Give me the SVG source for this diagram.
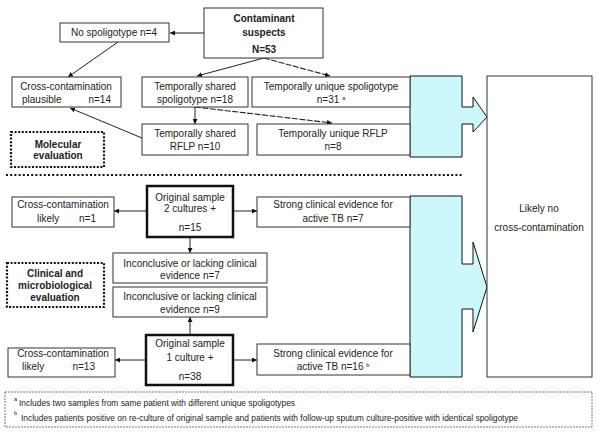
<svg xmlns="http://www.w3.org/2000/svg" width="600" height="435" viewBox="0 0 600 435">
<defs>
<marker id="ah" viewBox="0 0 10 10" refX="10" refY="5" markerWidth="5" markerHeight="5" orient="auto" markerUnits="userSpaceOnUse"><path d="M0,0 L10,5 L0,10 z" fill="#111"/></marker>
</defs>
<style>
text{font-family:"Liberation Sans",Arial,sans-serif;font-size:10px;fill:#222;text-anchor:middle}
.b{font-weight:bold}
.box{fill:#fff;stroke:#333;stroke-width:1}
.thick{fill:#fff;stroke:#111;stroke-width:2.5}
.dot{fill:#fff;stroke:#111;stroke-width:2.2;stroke-dasharray:2,1.6}
.cy{fill:#CCF8FC;stroke:#111;stroke-width:1}
.ln{stroke:#222;stroke-width:1;fill:none;marker-end:url(#ah)}
.dl{stroke:#222;stroke-width:1.1;fill:none;stroke-dasharray:6,1.5;marker-end:url(#ah)}
.fn{font-size:8.2px;text-anchor:start}
.sup{font-size:5.5px}
</style>
<rect x="0" y="0" width="600" height="435" fill="#fff"/>

<g id="cyan-top"><path class="cy" d="M410,76 H462 V107 H473 V97 L487,117 L473,132 V124 H462 V157 H410 Z"/></g>
<g id="cyan-bottom"><path class="cy" d="M410,196 H462 V264 H473 V242 L487,287 L473,332 V309 H462 V377 H410 Z"/></g>

<g id="connectors">
<line class="ln" x1="204" y1="33" x2="170" y2="33"/>
<line class="ln" x1="118" y1="42" x2="68" y2="77"/>
<line class="ln" x1="264" y1="58" x2="197" y2="76"/>
<line class="dl" x1="264" y1="58" x2="330" y2="76"/>
<line class="ln" x1="195" y1="107" x2="195" y2="124"/>
<line class="dl" x1="195" y1="107" x2="332" y2="123"/>
<line class="ln" x1="142" y1="138" x2="70" y2="108"/>
<line class="ln" x1="146" y1="211" x2="114" y2="211"/>
<line class="ln" x1="233" y1="211" x2="257" y2="211"/>
<line class="ln" x1="190" y1="238" x2="190" y2="253"/>
<line class="ln" x1="190" y1="334" x2="190" y2="317"/>
<line class="ln" x1="146" y1="360" x2="115" y2="360"/>
<line class="ln" x1="233" y1="360" x2="257" y2="360"/>
<line x1="6" y1="175" x2="462" y2="175" stroke="#111" stroke-width="2" stroke-dasharray="2,2.2"/>
</g>

<g id="contaminant">
<rect class="box" x="204" y="8" width="119" height="50"/>
<text class="b" x="264" y="22">Contaminant</text>
<text class="b" x="264" y="35.5">suspects</text>
<text class="b" x="264" y="53">N=53</text>
</g>
<g id="no-spoligotype">
<rect class="box" x="60" y="23" width="109" height="19"/>
<text x="114" y="36">No spoligotype n=4</text>
</g>
<g id="cc-plausible">
<rect class="box" x="12" y="77" width="109" height="30"/>
<text x="66" y="89.5">Cross-contamination</text>
<text x="22" y="102.5" style="text-anchor:start">plausible</text>
<text x="111" y="102.5" style="text-anchor:end">n=14</text>
</g>
<g id="ts-spoligotype">
<rect class="box" x="142" y="77" width="106" height="30"/>
<text x="195" y="89.5">Temporally shared</text>
<text x="195" y="102.5">spoligotype n=18</text>
</g>
<g id="tu-spoligotype">
<rect class="box" x="252" y="77" width="158" height="30"/>
<text x="331" y="89.5">Temporally unique spoligotype</text>
<text x="331" y="102.5">n=31 <tspan class="sup" dy="-3">a</tspan></text>
</g>
<g id="ts-rflp">
<rect class="box" x="142" y="124" width="106" height="31"/>
<text x="195" y="136.5">Temporally shared</text>
<text x="195" y="149.5">RFLP n=10</text>
</g>
<g id="tu-rflp">
<rect class="box" x="257" y="124" width="153" height="31"/>
<text x="333" y="136.5">Temporally unique RFLP</text>
<text x="333" y="150">n=8</text>
</g>
<g id="molecular">
<rect class="dot" x="11" y="132" width="93" height="35"/>
<text class="b" x="58" y="147.5">Molecular</text>
<text class="b" x="58" y="159">evaluation</text>
</g>

<g id="orig2">
<rect class="thick" x="147" y="186" width="86" height="51"/>
<text x="190" y="200.5">Original sample</text>
<text x="190" y="212">2 cultures +</text>
<text x="190" y="230.5">n=15</text>
</g>
<g id="cc-likely1">
<rect class="box" x="12" y="197" width="102" height="30"/>
<text x="63" y="207.5">Cross-contamination</text>
<text x="37" y="221.5" style="text-anchor:start">likely</text>
<text x="96" y="221.5" style="text-anchor:end">n=1</text>
</g>
<g id="strong7">
<rect class="box" x="257" y="197" width="153" height="30"/>
<text x="333" y="207.5">Strong clinical evidence for</text>
<text x="333" y="221.5">active TB n=7</text>
</g>
<g id="inconcl7">
<rect class="box" x="113" y="253" width="154" height="30"/>
<text x="190" y="266.5">Inconclusive or lacking clinical</text>
<text x="190" y="278.5">evidence n=7</text>
</g>
<g id="inconcl9">
<rect class="box" x="113" y="287" width="154" height="30"/>
<text x="190" y="299.5">Inconclusive or lacking clinical</text>
<text x="190" y="312.5">evidence n=9</text>
</g>
<g id="orig1">
<rect class="thick" x="146" y="335" width="87" height="50"/>
<text x="190" y="346.5">Original sample</text>
<text x="190" y="360.5">1 culture +</text>
<text x="190" y="379.5">n=38</text>
</g>
<g id="cc-likely13">
<rect class="box" x="8" y="348" width="107" height="29"/>
<text x="63" y="356.5">Cross-contamination</text>
<text x="22" y="369.5" style="text-anchor:start">likely</text>
<text x="95" y="369.5" style="text-anchor:end">n=13</text>
</g>
<g id="strong16">
<rect class="box" x="257" y="344" width="153" height="31"/>
<text x="333" y="356.5">Strong clinical evidence for</text>
<text x="333" y="369.5">active TB n=16 <tspan class="sup" dy="-3">b</tspan></text>
</g>
<g id="clinical">
<rect class="dot" x="7" y="263" width="97" height="44"/>
<text class="b" x="55" y="276.5">Clinical and</text>
<text class="b" x="55" y="289">microbiological</text>
<text class="b" x="55" y="301">evaluation</text>
</g>

<g id="likely-no">
<rect class="box" x="487" y="76" width="105" height="301"/>
<text x="539" y="211.5">Likely no</text>
<text x="539" y="230.5">cross-contamination</text>
</g>

<g id="footnotes">
<rect x="5" y="392" width="587" height="35" fill="#fff" stroke="#555" stroke-width="0.8" stroke-dasharray="2,1"/>
<text class="fn" x="14" y="403"><tspan class="sup" dy="-2">a</tspan></text>
<text class="fn" x="19" y="406" textLength="276" lengthAdjust="spacingAndGlyphs">Includes two samples from same patient with different unique spoligotypes</text>
<text class="fn" x="14" y="417"><tspan class="sup" dy="-2">b</tspan></text>
<text class="fn" x="21" y="420.5" textLength="497" lengthAdjust="spacingAndGlyphs">Includes patients positive on re-culture of original sample and patients with follow-up sputum culture-positive with identical spoligotype</text>
</g>
</svg>
